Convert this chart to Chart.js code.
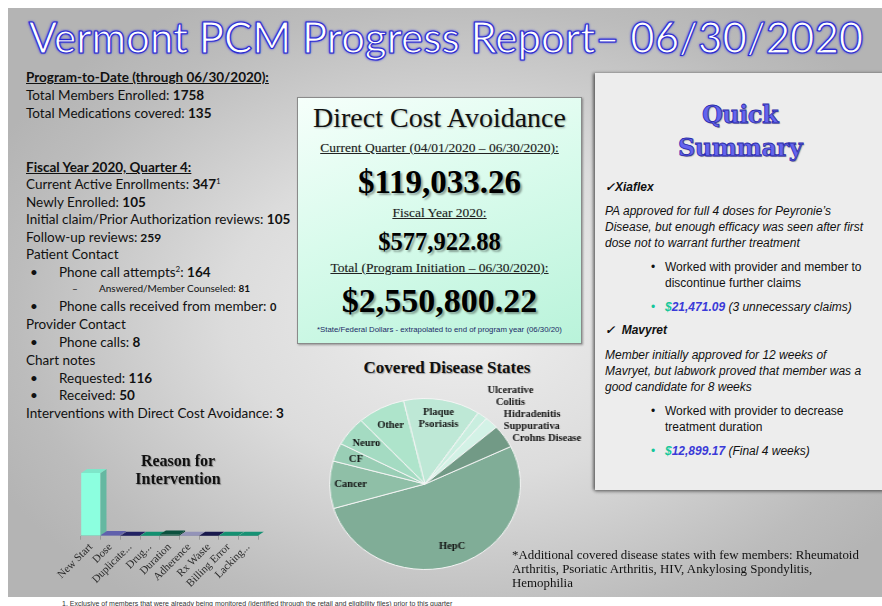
<!DOCTYPE html>
<html>
<head>
<meta charset="utf-8">
<title>Vermont PCM Progress Report</title>
<script src="https://cdn.jsdelivr.net/npm/chart.js"></script>
<style>
body { margin: 0; width: 882px; height: 606px; background: #fff; overflow: hidden; position: relative; font-family: Lato, "Open Sans", sans-serif; color: #111; }
#panel { position: absolute; left: 8px; top: 8px; width: 874px; height: 589px;
  background: radial-gradient(ellipse 60% 62% at 52% 52%, #efefef 0%, #dcdcdc 45%, #bcbcbc 85%, #b4b4b4 100%); }
#title { position: absolute; left: 0; width: 892px; top: 11px; text-align: center; font-size: 42px; line-height: 52px; color: #fff;
  -webkit-text-stroke: 1.1px #2b2bd0; text-shadow: 0 0 3px #3a3aff, 0 0 2px #2020b0; }
.ln { position: absolute; left: 26px; font-size: 13.5px; line-height: 18px; white-space: nowrap; }
.ln b { font-weight: 700; }
.sup { position: relative; top: -5px; font-size: 8px; }
.hd { font-weight: 700; text-decoration: underline; }
.bl { position: absolute; left: 4px; }
.ind { position: absolute; left: 33px; }
.sm { font-size: 10px; }
#dca { position: absolute; left: 297px; top: 97px; width: 283px; height: 245px; border: 1px solid #8a8a8a;
  background: linear-gradient(160deg, #f6fffb 0%, #d9fbec 45%, #b9f3da 100%); box-shadow: 1px 1px 2px rgba(0,0,0,0.35);
  font-family: "Liberation Serif", "Times New Roman", serif; text-align: center; }
#dca div { position: absolute; left: 0; width: 100%; white-space: nowrap; }
#dca .u { text-decoration: underline; font-size: 13.5px; color: #222; text-shadow: 0 0 1px rgba(0,0,0,0.25); }
#dca .big { font-weight: 700; color: #000; text-shadow: 2px 2px 2px rgba(0,0,0,0.35); }
#qs { position: absolute; left: 595px; top: 73px; width: 290px; height: 417px; background: #ededed;
  box-shadow: -2px 0 3px rgba(0,0,0,0.45), 0 2px 3px rgba(0,0,0,0.3); font-family: "Liberation Sans", Arial, sans-serif; }
#qs div { position: absolute; white-space: nowrap; font-size: 12px; line-height: 16px; color: #111; }
#qs .qt { left: 0; width: 290px; text-align: center; font-family: "DejaVu Serif", serif; font-weight: 700; font-size: 24px; line-height: 30px;
  color: #6464ee; -webkit-text-stroke: 0.8px #2a2aa8; text-shadow: 1px 1px 1px rgba(0,0,0,0.3); letter-spacing: -0.5px; }
#qs .drug { left: 10px; font-weight: 700; font-style: italic; }
#qs .para { left: 10px; font-style: italic; }
#qs .pt { left: 70px; }
#qs .dot { left: 56px; }
#qs .dot.g { color: #15c69a; }
#qs .amt { left: 70px; font-style: italic; }
.amt .d { color: #16c89a; font-weight: 700; }
.amt .v { color: #3a3ad8; font-weight: 700; }
#pieTitle { position: absolute; left: 300px; width: 294px; top: 358px; text-align: center; font-family: "Liberation Serif", serif;
  font-weight: 700; font-size: 17px; text-shadow: 1px 1px 1px rgba(0,0,0,0.3); }
#pieWrap { position: absolute; left: 335px; top: 364px; width: 300px; height: 220px; transform-origin: 90px 120px; transform: scaleX(1.116); }
#barWrap { position: absolute; left: 40px; top: 440px; width: 240px; height: 160px; }
#barTitle { position: absolute; left: 108px; width: 140px; top: 452px; text-align: center; font-family: "Liberation Serif", serif;
  font-weight: 700; font-size: 16px; line-height: 18px; text-shadow: 1px 1px 1px rgba(0,0,0,0.3); }
#note { position: absolute; left: 512px; top: 548px; width: 356px; font-family: "Liberation Serif", serif; font-size: 12.9px; line-height: 14px; color: #111; }
#foot { position: absolute; left: 62px; top: 600px; font-family: "Liberation Sans", sans-serif; font-size: 7px; color: #333; white-space: nowrap; }
</style>
</head>
<body>
<div id="panel"></div>
<div id="title">Vermont PCM Progress Report– 06/30/2020</div>

<div class="ln hd" style="top:68px">Program-to-Date (through 06/30/2020):</div>
<div class="ln" style="top:86px">Total Members Enrolled: <b>1758</b></div>
<div class="ln" style="top:104px">Total Medications covered: <b>135</b></div>
<div class="ln hd" style="top:158px">Fiscal Year 2020, Quarter 4:</div>
<div class="ln" style="top:175px">Current Active Enrollments: <b>347</b><span class="sup">1</span></div>
<div class="ln" style="top:193px">Newly Enrolled: <b>105</b></div>
<div class="ln" style="top:210px">Initial claim/Prior Authorization reviews: <b>105</b></div>
<div class="ln" style="top:228px">Follow-up reviews:<b style="font-size:12px"> 259</b></div>
<div class="ln" style="top:245px">Patient Contact</div>
<div class="ln" style="top:263px"><span class="bl">•</span><span class="ind">Phone call attempts<span class="sup">2</span>: <b>164</b></span></div>
<div class="ln sm" style="top:279px"><span style="position:absolute;left:46px">–</span><span style="position:absolute;left:73px">Answered/Member Counseled: <b>81</b></span></div>
<div class="ln" style="top:297px"><span class="bl">•</span><span class="ind">Phone calls received from member: <b style="font-size:11px">0</b></span></div>
<div class="ln" style="top:315px">Provider Contact</div>
<div class="ln" style="top:333px"><span class="bl">•</span><span class="ind">Phone calls: <b>8</b></span></div>
<div class="ln" style="top:351px">Chart notes</div>
<div class="ln" style="top:369px"><span class="bl">•</span><span class="ind">Requested: <b>116</b></span></div>
<div class="ln" style="top:386px"><span class="bl">•</span><span class="ind">Received: <b>50</b></span></div>
<div class="ln" style="top:404px">Interventions with Direct Cost Avoidance: <b>3</b></div>

<div id="dca">
  <div style="top:3px;font-size:28px;line-height:34px;text-shadow:1px 1px 2px rgba(0,0,0,0.3)">Direct Cost Avoidance</div>
  <div class="u" style="top:42px">Current Quarter (04/01/2020 – 06/30/2020):</div>
  <div class="big" style="top:64px;font-size:33px;line-height:40px">$119,033.26</div>
  <div class="u" style="top:107px">Fiscal Year 2020:</div>
  <div class="big" style="top:129px;font-size:24.5px;line-height:30px">$577,922.88</div>
  <div class="u" style="top:162px">Total (Program Initiation – 06/30/2020):</div>
  <div class="big" style="top:183px;font-size:34px;line-height:40px">$2,550,800.22</div>
  <div style="top:227px;font-family:'Liberation Sans',Arial,sans-serif;font-size:7.8px;color:#1b2a66">*State/Federal Dollars - extrapolated to end of program year (06/30/20)</div>
</div>

<div id="qs">
  <div class="qt" style="top:27px">Quick</div>
  <div class="qt" style="top:60px">Summary</div>
  <div class="drug" style="top:106px">✓Xiaflex</div>
  <div class="para" style="top:130px">PA approved for full 4 doses for Peyronie’s<br>Disease, but enough efficacy was seen after first<br>dose not to warrant further treatment</div>
  <div class="dot" style="top:186px">•</div>
  <div class="pt" style="top:186px">Worked with provider and member to<br>discontinue further claims</div>
  <div class="dot g" style="top:226px">•</div>
  <div class="amt" style="top:226px"><span class="d">$</span><span class="v">21,471.09</span> (3 unnecessary claims)</div>
  <div class="drug" style="top:249px">✓&nbsp; Mavyret</div>
  <div class="para" style="top:274px">Member initially approved for 12 weeks of<br>Mavryet, but labwork proved that member was a<br>good candidate for 8 weeks</div>
  <div class="dot" style="top:330px">•</div>
  <div class="pt" style="top:330px">Worked with provider to decrease<br>treatment duration</div>
  <div class="dot g" style="top:370px">•</div>
  <div class="amt" style="top:370px"><span class="d">$</span><span class="v">12,899.17</span> (Final 4 weeks)</div>
</div>

<div id="pieTitle">Covered Disease States</div>
<div id="pieWrap"><canvas id="pieChart" width="300" height="220"></canvas></div>

<div id="barWrap"><canvas id="barChart" width="240" height="160"></canvas></div>
<div id="barTitle">Reason for<br>Intervention</div>

<div id="note">*Additional covered disease states with few members: Rheumatoid Arthritis, Psoriatic Arthritis, HIV, Ankylosing Spondylitis, Hemophilia</div>
<div id="foot">1. Exclusive of members that were already being monitored (identified through the retail and eligibility files) prior to this quarter</div>

<script>
// covered disease states (members)
var diseases = ['HepC', 'Cancer', 'CF', 'Neuro', 'Other', ['Plaque', 'Psoriasis'], ['Ulcerative', 'Colitis'], ['Hidradenitis', 'Suppurativa'], 'Crohns Disease'];
var diseaseMembers = [182, 31, 12, 19, 28, 45, 6, 8, 15];
var diseaseColors = ['#80ad97', '#8fbfa7', '#99ceb5', '#a4dbc2', '#aee4cb', '#bee8d6', '#c9eedf', '#d3f2e6', '#729a86'];

// reason for intervention
var reasons = ['New Start', 'Dose', 'Duplicate...', 'Drug...', 'Duration', 'Adherence', 'Rx Waste', 'Billing Error', 'Lacking...'];
var reasonCounts = [105, 1, 0, 0, 2, 0, 0, 0, 0];
var reasonColors = ['#8cffdf', '#6b6bbf', '#26266e', '#14a07c', '#0c5a45', '#a3a3cc', '#1c1c56', '#17a07e', '#19a281'];

var PIE_STRETCH = 1.116;

function shade(hex, f) {
    var n = parseInt(hex.slice(1), 16);
    var r = (n >> 16) & 255, g = (n >> 8) & 255, b = n & 255;
    r = Math.min(255, Math.round(r * f));
    g = Math.min(255, Math.round(g * f));
    b = Math.min(255, Math.round(b * f));
    return 'rgb(' + r + ',' + g + ',' + b + ')';
}

var pieLabels = {
    id: 'pieLabels',
    afterDatasetsDraw: function (chart, args, opts) {
        var ctx = chart.ctx;
        var meta = chart.getDatasetMeta(0);
        var outside = opts.outside || [];
        var prevTop = null;
        ctx.save();
        ctx.font = 'bold 10.5px "Liberation Serif", serif';
        ctx.fillStyle = '#111';
        ctx.textBaseline = 'middle';
        // go backwards so the small outside labels can stack upwards
        for (var i = meta.data.length - 1; i >= 0; i--) {
            var p = meta.data[i].getProps(['x', 'y', 'startAngle', 'endAngle', 'outerRadius'], true);
            var mid = (p.startAngle + p.endAngle) / 2;
            var lines = [].concat(diseases[i]);
            var h = lines.length * 12;
            var isOut = outside.indexOf(i) >= 0;
            var x, y, align = 'center', shift = 0;
            if (isOut) {
                x = p.x + Math.cos(mid) * p.outerRadius * 1.1;
                y = p.y + Math.sin(mid) * p.outerRadius * 1.1 + 7;
                if (prevTop !== null && y + h / 2 > prevTop) y = prevTop - h / 2;
                prevTop = y - h / 2;
                align = 'left';
                if (i === outside[0]) { align = 'center'; shift = 20; }
                if (i === outside[1]) shift = 5;
            } else {
                x = p.x + Math.cos(mid) * p.outerRadius * 0.78;
                y = p.y + Math.sin(mid) * p.outerRadius * 0.78;
            }
            ctx.textAlign = align;
            for (var k = 0; k < lines.length; k++) {
                ctx.save();
                ctx.translate(x + shift, y - h / 2 + 6 + k * 12);
                ctx.scale(1 / PIE_STRETCH, 1);
                ctx.fillText(lines[k], 0, 0);
                ctx.restore();
            }
        }
        ctx.restore();
    }
};

var bar3d = {
    id: 'bar3d',
    afterDatasetsDraw: function (chart) {
        var ctx = chart.ctx;
        var meta = chart.getDatasetMeta(0);
        var dx = 6, dy = -4;
        meta.data.forEach(function (bar, i) {
            var p = bar.getProps(['x', 'y', 'base', 'width'], true);
            var l = p.x - p.width / 2, r = p.x + p.width / 2;
            ctx.save();
            ctx.fillStyle = shade(reasonColors[i], 0.72);
            ctx.beginPath();
            ctx.moveTo(r, p.y); ctx.lineTo(r + dx, p.y + dy); ctx.lineTo(r + dx, p.base + dy); ctx.lineTo(r, p.base);
            ctx.closePath(); ctx.fill();
            ctx.fillStyle = shade(reasonColors[i], 0.9);
            ctx.beginPath();
            ctx.moveTo(l, p.y); ctx.lineTo(l + dx, p.y + dy); ctx.lineTo(r + dx, p.y + dy); ctx.lineTo(r, p.y);
            ctx.closePath(); ctx.fill();
            ctx.restore();
        });
    }
};

var pieChart = new Chart(document.getElementById('pieChart'), {
    type: 'pie',
    data: {
        labels: diseases,
        datasets: [{
            data: diseaseMembers,
            backgroundColor: diseaseColors,
            borderColor: '#f4f4f4',
            borderWidth: 1
        }]
    },
    options: {
        responsive: false,
        animation: false,
        rotation: 64,
        layout: { padding: { left: 4, top: 34, right: 124, bottom: 14 } },
        plugins: {
            legend: { display: false },
            tooltip: { enabled: false },
            pieLabels: { outside: [6, 7, 8] }
        }
    },
    plugins: [pieLabels]
});

var barChart = new Chart(document.getElementById('barChart'), {
    type: 'bar',
    data: {
        labels: reasons,
        datasets: [{
            data: reasonCounts,
            backgroundColor: reasonColors,
            borderWidth: 0,
            categoryPercentage: 1,
            barPercentage: 0.98
        }]
    },
    options: {
        responsive: false,
        animation: false,
        layout: { padding: { top: 24, right: 22, left: 41, bottom: 9 } },
        scales: {
            x: {
                grid: { display: true, drawOnChartArea: false, offset: true, tickLength: 4, color: '#9a9a9a' },
                border: { color: '#9a9a9a' },
                ticks: {
                    autoSkip: false, maxRotation: 45, minRotation: 45, padding: 1,
                    color: '#2a2a2a', font: { family: '"Liberation Serif", serif', size: 11 }
                }
            },
            y: { display: false, min: 0, max: 120 }
        },
        plugins: { legend: { display: false }, tooltip: { enabled: false } }
    },
    plugins: [bar3d]
});
</script>
</body>
</html>
